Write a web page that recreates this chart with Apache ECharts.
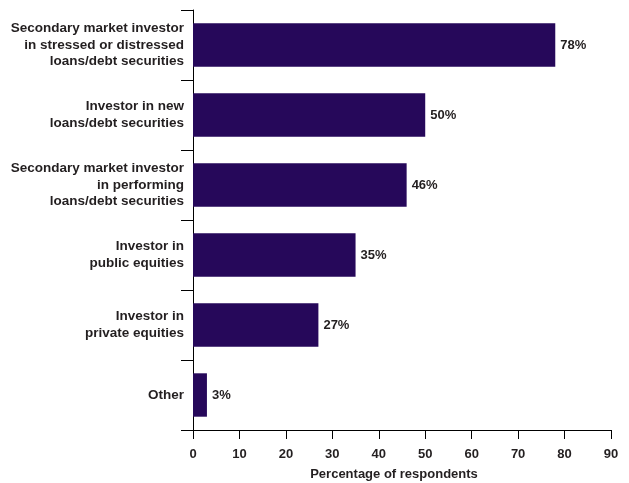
<!DOCTYPE html>
<html>
<head>
<meta charset="utf-8">
<script src="https://cdn.jsdelivr.net/npm/echarts@6/dist/echarts.min.js"></script>
<style>
  html, body { margin: 0; padding: 0; background: #fff; }
  #chart { width: 629px; height: 483px; }
</style>
</head>
<body>
<div id="chart"></div>
<script>
// Investor types, top to bottom
const categories = [
  'Secondary market investor\nin stressed or distressed\nloans/debt securities',
  'Investor in new\nloans/debt securities',
  'Secondary market investor\nin performing\nloans/debt securities',
  'Investor in\npublic equities',
  'Investor in\nprivate equities',
  'Other'
];
// Share of respondents (%)
const values = [78, 50, 46, 35, 27, 3];
// Value axis range
const axisMin = 0;
const axisMax = 90;
const axisStep = 10;

const textColor = '#231f20';
const font = '"Liberation Sans", Arial, sans-serif';

const chart = echarts.init(document.getElementById('chart'), null, { renderer: 'canvas' });
chart.setOption({
  animation: false,
  backgroundColor: '#ffffff',
  grid: { left: 193, right: 18, top: 10, bottom: 53, containLabel: false, outerBoundsMode: 'none' },
  xAxis: {
    type: 'value',
    min: axisMin,
    max: axisMax,
    interval: axisStep,
    name: 'Percentage of respondents',
    nameLocation: 'middle',
    nameGap: 38,
    nameTextStyle: { color: textColor, fontFamily: font, fontWeight: 'bold', fontSize: 13, padding: [0, 16, 0, 0] },
    axisLine: { show: true, lineStyle: { color: '#000', width: 1 } },
    axisTick: { show: true, length: 9, lineStyle: { color: '#000', width: 1 } },
    axisLabel: { color: textColor, fontFamily: font, fontWeight: 'bold', fontSize: 13, margin: 18 },
    splitLine: { show: false }
  },
  yAxis: {
    type: 'category',
    data: categories,
    inverse: true,
    axisLine: { show: true, lineStyle: { color: '#000', width: 1 } },
    axisTick: { show: true, length: 12, alignWithLabel: false, lineStyle: { color: '#000', width: 1 } },
    axisLabel: {
      color: textColor, fontFamily: font, fontWeight: 'bold', fontSize: 13.5,
      lineHeight: 16.5, align: 'right', margin: 9
    }
  },
  series: [{
    type: 'bar',
    data: values,
    barCategoryGap: '38%',
    itemStyle: { color: '#26085a' },
    label: {
      show: true,
      position: 'right',
      distance: 5,
      formatter: '{c}%',
      color: textColor,
      fontFamily: font,
      fontWeight: 'bold',
      fontSize: 13
    }
  }]
});
</script>
</body>
</html>
